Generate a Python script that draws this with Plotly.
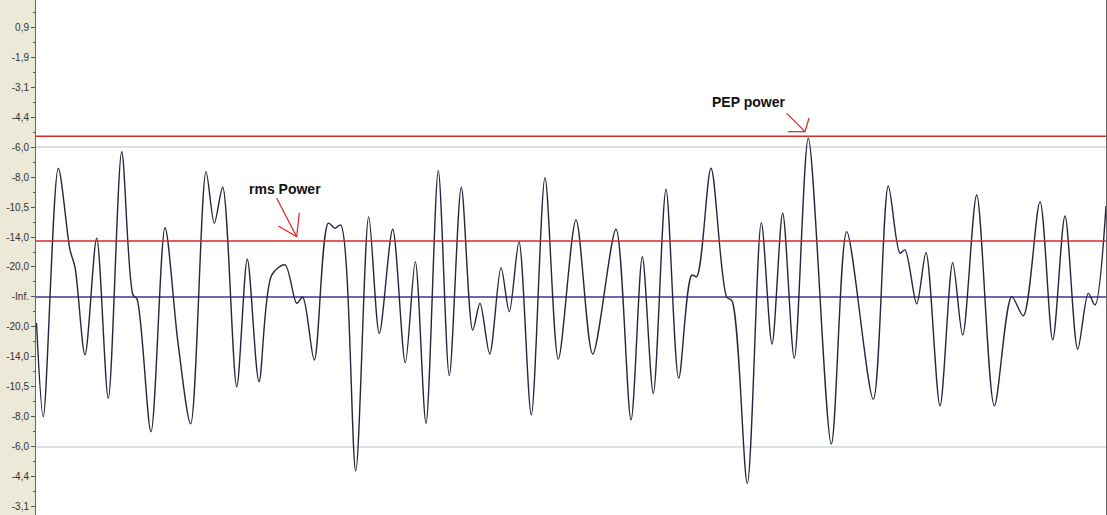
import plotly.graph_objects as go

# Waveform: time position (sample axis) and linear amplitude, read at the extremes
t = [36.5, 43.3, 58.3, 70, 75, 85, 96.7, 108.3, 121.7, 133, 137, 151, 165, 178, 190.7,
     206, 214.3, 222.7, 236.7, 247.3, 259, 271.7, 285, 296.7, 302.7, 314.3, 328.3, 335,
     340.7, 355.7, 368.7, 379.3, 392.7, 405.3, 415.3, 426, 438.3, 449.3, 461.3, 472.7,
     480, 489.7, 501, 509.3, 519, 531.3, 545, 558.3, 576, 592.7, 616, 631, 642.3, 653.3,
     666, 678.7, 691.7, 696.7, 711, 726.7, 732, 747.3, 761.3, 772, 782.7, 794.3, 808.3,
     831.3, 846.7, 873.3, 888.3, 900, 905, 916.7, 926, 940, 952.7, 962.7, 976.7, 994.3,
     1011.7, 1023.3, 1040, 1052.7, 1065, 1077.7, 1088.3, 1095, 1106]
amp = [-0.087, -0.399, 0.429, 0.157, 0.100, -0.193, 0.196, -0.338, 0.484, 0.007, -0.007,
       -0.449, 0.231, -0.153, -0.423, 0.418, 0.246, 0.366, -0.299, 0.126, -0.282, 0.073,
       0.107, -0.021, 0.000, -0.210, 0.246, 0.229, 0.240, -0.579, 0.268, -0.121, 0.226,
       -0.219, 0.118, -0.421, 0.421, -0.262, 0.366, -0.110, -0.021, -0.190, 0.098, -0.049,
       0.184, -0.393, 0.398, -0.207, 0.257, -0.190, 0.226, -0.410, 0.134, -0.321, 0.359,
       -0.271, 0.073, 0.068, 0.429, 0.000, -0.013, -0.621, 0.248, -0.157, 0.279, -0.204,
       0.529, -0.490, 0.218, -0.341, 0.370, 0.146, 0.157, -0.023, 0.148, -0.363, 0.114,
       -0.127, 0.340, -0.363, 0.001, -0.063, 0.318, -0.143, 0.270, -0.174, 0.012, -0.027,
       0.303]

# Axis ticks (linear amplitude positions with dB labels)
tick_vals = [0.9, 0.8, 0.7, 0.6, 0.5, 0.4, 0.3, 0.2, 0.1, 0.0,
             -0.1, -0.2, -0.3, -0.4, -0.5, -0.6, -0.7]
tick_text = ["0,9", "-1,9", "-3,1", "-4,4", "-6,0", "-8,0", "-10,5", "-14,0", "-20,0", "-Inf.",
             "-20,0", "-14,0", "-10,5", "-8,0", "-6,0", "-4,4", "-3,1"]

# Reference levels
pep_level = 0.536
rms_level = 0.187
half_levels = [0.5, -0.5]

X0, X1 = 36, 1106
Y0, Y1 = -0.7267, 0.99

fig = go.Figure()

fig.add_trace(go.Scatter(x=t, y=amp, mode="lines",
                         line=dict(color="#262640", width=1.4, shape="spline", smoothing=0.85),
                         hoverinfo="skip", showlegend=False))

shapes = []
for lv in half_levels:
    shapes.append(dict(type="line", xref="x", yref="y", x0=X0, x1=X1, y0=lv, y1=lv,
                       line=dict(color="#b9c3c9", width=1.2), layer="below"))
shapes.append(dict(type="line", xref="x", yref="y", x0=X0, x1=X1, y0=0, y1=0,
                   line=dict(color="#3a3a8c", width=1.5), layer="below"))
for lv in (pep_level, rms_level):
    shapes.append(dict(type="line", xref="x", yref="y", x0=X0, x1=X1, y0=lv, y1=lv,
                       line=dict(color="#d42a2a", width=1.5)))


def py(p):
    # convert a screen row of the annotation to the amplitude axis
    return (297 - p) / 300


red = dict(color="#e02020", width=1.2)
arrows = [
    ((276.7, 198.3), (296.7, 236.7), (278.3, 226.0), (299.3, 212.7)),
    ((786.7, 113.3), (805.0, 131.7), (788.0, 131.7), (809.0, 118.0)),
]
for a, tip, h1, h2 in arrows:
    for s in (a, h1, h2):
        shapes.append(dict(type="line", xref="x", yref="y", x0=s[0], y0=py(s[1]),
                           x1=tip[0], y1=py(tip[1]), line=red))

annotations = [
    dict(x=285, y=py(189), xref="x", yref="y", text="<b>rms Power</b>", showarrow=False,
         font=dict(family="Liberation Sans, Arial", size=14, color="#111111")),
    dict(x=748, y=py(102), xref="x", yref="y", text="<b>PEP power</b>", showarrow=False,
         font=dict(family="Liberation Sans, Arial", size=14, color="#111111")),
]

fig.update_layout(
    width=1107, height=515,
    margin=dict(l=36, r=1, t=0, b=0),
    paper_bgcolor="#ece9d8",
    plot_bgcolor="#ffffff",
    shapes=shapes,
    annotations=annotations,
    hovermode=False,
    xaxis=dict(range=[X0, X1], visible=False, showgrid=False, zeroline=False),
    yaxis=dict(range=[Y0, Y1], tickmode="array", tickvals=tick_vals, ticktext=tick_text,
               ticks="outside", ticklen=4, tickcolor="#555555", tickwidth=1,
               showline=True, linecolor="#666666", linewidth=1, mirror=True,
               showgrid=False, zeroline=False,
               tickfont=dict(family="Liberation Sans, Arial", size=10, color="#333333"),
               minor=dict(dtick=0.05, tick0=0, ticks="outside", ticklen=2,
                          tickcolor="#555555", showgrid=False)),
)

fig.write_html("out.html",
               config={"displayModeBar": False},
               post_script="document.body.style.margin='0px';"
                           "document.body.style.overflow='hidden';")
